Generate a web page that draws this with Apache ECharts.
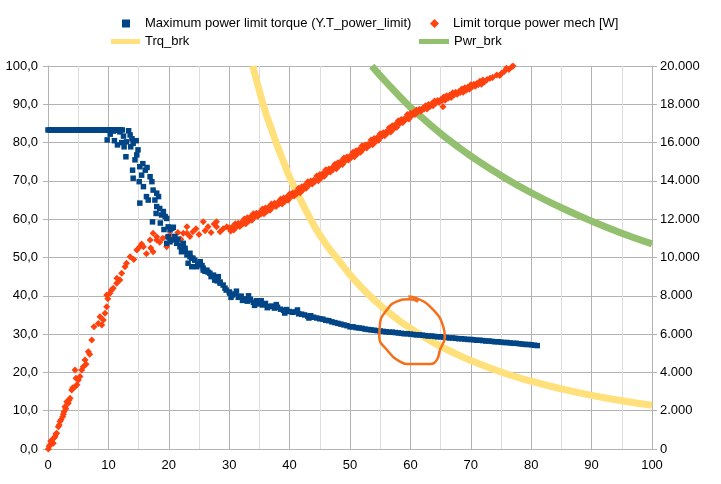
<!DOCTYPE html>
<html><head><meta charset="utf-8">
<script src="https://cdn.jsdelivr.net/npm/echarts@6/dist/echarts.min.js"></script>
<style>html,body{margin:0;padding:0;background:#fff}#c{width:721px;height:484px}</style>
</head><body><div id="c"></div><script>
const seriesNames = ['Maximum power limit torque (Y.T_power_limit)', 'Limit torque power mech [W]', 'Trq_brk', 'Pwr_brk'];

// Left axis (torque) series: blue squares
const blueFlat = [[0,83.3],[0.3,83.3],[0.6,83.3],[0.9,83.3],[1.2,83.3],[1.5,83.3],[1.8,83.3],[2.1,83.3],[2.4,83.3],[2.7,83.3],[3,83.3],[3.3,83.3],[3.6,83.3],[3.9,83.3],[4.2,83.3],[4.5,83.3],[4.8,83.3],[5.1,83.3],[5.4,83.3],[5.7,83.3],[6,83.3],[6.3,83.3],[6.6,83.3],[6.9,83.3],[7.2,83.3],[7.5,83.3],[7.8,83.3],[8.1,83.3],[8.4,83.3],[8.7,83.3],[9,83.3],[9.3,83.3],[9.6,83.3],[9.9,83.3],[10.2,83.3],[10.5,83.3],[10.8,83.3],[11.1,83.3],[11.4,83.3],[11.7,83.3],[12,83.3],[12.3,83.3]];
const blueScatter = [[9.8,80.7],[10.3,82.2],[11.0,80.5],[11.5,79.4],[11.9,82.8],[12.5,81.7],[12.6,78.9],[12.9,76.3],[13.0,80.2],[13.35,83.1],[13.6,82.0],[13.7,78.9],[14.1,79.8],[14.4,75.5],[14.7,76.8],[14.0,72.8],[14.1,70.7],[14.9,78.1],[15.2,73.7],[15.5,71.5],[15.1,69.8],[15.8,68.5],[16.1,72.8],[15.2,64.2],[16.3,65.9],[16.6,65.0],[16.9,71.1],[17.2,69.8],[17.4,67.6],[18.0,66.8],[17.7,65.0],[18.3,65.9],[18.0,63.3],[18.5,62.8],[18.8,61.1],[17.3,59.3],[19.1,62.0],[19.4,60.7],[19.65,60.2],[19.9,58.0],[20.5,57.6],[20.75,57.9],[19.9,55.4],[19.65,53.7],[20.2,54.1],[20.75,54.6],[21.3,53.7],[21.85,52.8],[22.4,53.7],[22.7,52.4],[22.1,51.5],[23.0,50.7],[23.5,51.1],[23.8,49.8],[23.2,48.5],[24.3,49.3],[24.6,47.6],[25.2,48.5],[25.7,47.2],[26.3,46.7],[26.8,45.9],[27.4,45.4],[28.2,45.0],[20.2,57.2],[22.4,52.0],[23.5,50.2],[23.8,47.6],[25.2,48.9],[25.7,46.7],[27.6,44.1],[28.5,43.3],[29.3,42.0],[30.1,40.7],[31.8,39.8],[33.4,38.9],[35.1,38.0],[37.3,37.2],[21,55.5],[21.5,54.8],[22,53.2],[22.7,51.7],[23.3,50.9],[24,49.8],[24.8,48.1],[25.5,47.9],[26,46.4],[26.5,46.2],[27,45.0],[27.8,44.5],[28,43.9],[16.4,73.5],[14.6,80.5],[12.2,80.0],[10.8,83.0],[13.9,81.0],[15.7,74.5],[17.9,61.5],[19.2,57.3],[18.6,59.0]];
const blueBand = [[28.5,43.6],[29,42.8],[29.5,41.5],[30,41.0],[30.5,40.2],[31,40.5],[31.5,39.6],[32,39.9],[32.5,39.2],[33,38.6],[33.5,39.1],[34,38.3],[34.5,38.7],[35,37.9],[35.5,37.6],[36,38.0],[36.5,37.2],[37,37.3],[37.5,36.8],[38,37.0],[38.5,36.5],[39,36.2],[39.5,36.4],[40,35.9],[40.5,35.7],[41,35.8],[41.5,35.3],[42,35.2],[42.5,35.0],[43,34.7],[43.5,34.8],[44,34.4],[44.5,34.2],[45,34.0],[45.5,33.9],[46,33.6],[46.5,33.5],[47,33.2],[47.5,33.0],[48,32.8],[48.5,32.6],[49,32.4],[49.5,32.2],[50,31.9],[50.5,31.9],[51,31.7],[51.5,31.6],[52,31.5],[52.5,31.3],[53,31.2],[53.5,31.1],[54,31.0],[54.5,30.9],[55,30.8],[55.5,30.7],[56,30.6],[56.5,30.5],[57,30.5],[57.5,30.4],[58,30.3],[58.5,30.2],[59,30.1],[59.5,30.1],[60,30.0],[60.5,29.9],[61,29.8],[61.5,29.8],[62,29.7],[62.5,29.6],[63,29.5],[63.5,29.5],[64,29.4],[64.5,29.3],[65,29.3],[65.5,29.2],[66,29.1],[66.5,29.0],[67,29.0],[67.5,28.9],[68,28.8],[68.5,28.8],[69,28.7],[69.5,28.6],[70,28.6],[70.5,28.5],[71,28.4],[71.5,28.4],[72,28.3],[72.5,28.2],[73,28.2],[73.5,28.1],[74,28.0],[74.5,28.0],[75,27.9],[75.5,27.8],[76,27.8],[76.5,27.7],[77,27.6],[77.5,27.6],[78,27.5],[78.5,27.4],[79,27.3],[79.5,27.3],[80,27.2],[80.5,27.1],[81,27.0],[30.3,39.6],[31.2,41.2],[32.2,38.8],[33.2,40.0],[34.2,37.5],[35.3,38.7],[36.3,36.9],[37.8,37.7],[39.2,35.5],[41.3,36.3],[43.2,34.2]];

// Right axis (power W) series: red diamonds
const redLow = [[0.05,0],[0.2,150],[0.33,210],[0.45,420],[0.6,380],[0.88,300],[0.95,560],[1.16,640],[1.3,780],[1.44,820],[1.71,1160],[1.85,1250],[1.99,1430],[2.15,1530],[2.43,1690],[2.55,1820],[2.65,1950],[2.8,2210],[2.95,2100],[3.1,2470],[3.36,2390],[3.5,2560],[3.64,2650],[3.92,3080],[4.1,3200],[4.47,3250],[4.64,3690],[4.47,4130],[4.8,3350],[5.02,3600],[5.3,3780],[5.58,4130],[5.84,4300],[6.13,4650],[6.3,4420],[6.67,5080],[6.9,4950],[7.24,5690],[7.62,6390],[8.33,6560],[8.61,6910],[8.9,6480],[9.16,6740],[9.44,7090],[9.72,7430],[9.72,8040],[9.9,7850],[10.26,8130],[10.5,8300],[10.8,8390],[11.37,8650],[11.9,8830]];
const redMid = [[11.4,8910],[12.2,9180],[12.75,9520],[13.0,9700],[13.6,10040],[14.2,9900],[14.7,10390],[15.2,10560],[15.5,10700],[15.8,10560],[16.3,10200],[16.9,10910],[17.0,10500],[17.4,11260],[17.4,10300],[18.0,11090],[18.0,10910],[18.5,10800],[19.0,11000],[19.65,10560],[19.7,11090],[20.2,11170],[20.5,10900],[21,11000],[21.5,11300],[22,10950],[22.4,11260],[23,11610],[23,11270],[23.5,11100],[24,11350],[24.5,11500],[25,11200],[25.7,11870],[26,11400],[26.5,11600],[27,11300],[27.5,11750],[27.9,11870],[27.9,11600],[28.5,11350],[29,11500],[29.6,11610]];
const redBand = [[30,11550],[30.25,11380],[30.5,11590],[30.75,11430],[31,11760],[31.25,11610],[31.5,11790],[31.75,11620],[32,11820],[32.25,11750],[32.5,12010],[32.75,11760],[33,12070],[33.25,11900],[33.5,12110],[33.75,11950],[34,12290],[34.25,12130],[34.5,12310],[34.75,12150],[35,12340],[35.25,12270],[35.5,12530],[35.75,12280],[36,12590],[36.25,12420],[36.5,12630],[36.75,12470],[37,12800],[37.25,12650],[37.5,12830],[37.75,12660],[38,12860],[38.25,12790],[38.5,13040],[38.75,12800],[39,13110],[39.25,12940],[39.5,13140],[39.75,12990],[40,13320],[40.25,13170],[40.5,13370],[40.75,13210],[41,13410],[41.25,13350],[41.5,13620],[41.75,13380],[42,13700],[42.25,13540],[42.5,13760],[42.75,13610],[43,13950],[43.25,13800],[43.5,14000],[43.75,13840],[44,14040],[44.25,13980],[44.5,14250],[44.75,14010],[45,14330],[45.25,14170],[45.5,14380],[45.75,14240],[46,14580],[46.25,14430],[46.5,14620],[46.75,14460],[47,14670],[47.25,14610],[47.5,14870],[47.75,14630],[48,14950],[48.25,14800],[48.5,15010],[48.75,14860],[49,15200],[49.25,15050],[49.5,15250],[49.75,15090],[50,15290],[50.25,15230],[50.5,15500],[50.75,15260],[51,15580],[51.25,15420],[51.5,15640],[51.75,15490],[52,15830],[52.25,15680],[52.5,15880],[52.75,15720],[53,15920],[53.25,15860],[53.5,16130],[53.75,15890],[54,16210],[54.25,16050],[54.5,16270],[54.75,16120],[55,16460],[55.25,16320],[55.5,16510],[55.75,16360],[56,16570],[56.25,16520],[56.5,16780],[56.75,16550],[57,16880],[57.25,16720],[57.5,16940],[57.75,16800],[58,17140],[58.25,17000],[58.5,17200],[58.75,17050],[59,17250],[59.25,17200],[59.5,17470],[59.75,17230],[60,17530],[60.25,17420],[60.5,17570],[60.75,17470],[61,17700],[61.25,17610],[61.5,17740],[61.75,17640],[62,17780],[62.25,17750],[62.5,17920],[62.75,17760],[63,17990],[63.25,17880],[63.5,18030],[63.75,17930],[64,18170],[64.25,18070],[64.5,18200],[64.75,18100],[65,18240],[65.25,18200],[65.5,18380],[65.75,18210],[66,18440],[66.25,18320],[66.5,18470],[66.75,18360],[67,18600],[67.25,18500],[67.5,18630],[67.75,18520],[68,18660],[68.25,18620],[68.5,18800],[68.75,18630],[69,18860],[69.25,18740],[69.5,18890],[69.75,18780],[70,19020],[70.25,18920],[70.5,19050],[70.75,18940],[71,19080],[71.25,19040],[71.5,19210],[71.75,19050],[72,19270],[72.25,19160],[72.7,19300],[73.2,19360],[73.6,19400],[74.3,19530],[74.8,19500],[75.1,19620],[75.5,19700],[75.9,19880],[76.3,19820],[76.8,19960],[77,20000],[65.4,17870]];

// Trq_brk (left axis)
const trqX = [33.9,35,36,37,38,39,40,42,44,46,48,50,52,55,58,60,62,65,68,70,75,80,85,90,95,100];
const trqY = [100,93.5,88,83.5,79,75,71,64.5,58.5,53.5,49.5,45.5,42,37.5,33.7,31.5,29.5,26.8,24.5,23.1,20.1,17.7,15.7,14,12.6,11.4];
// Pwr_brk (right axis)
const pwrX = [53.6,55,57.5,60,62.5,65,67.5,70,75,80,85,90,95,100];
const pwrY = [20000,19500,18650,17850,17150,16480,15870,15300,14280,13380,12600,11900,11270,10710];

// Hand-drawn orange circle annotation (left-axis data coordinates)
const circleX = [59.65,61.0,63.8,65.45,65.7,64.9,64.35,63.25,59.9,58.3,56.1,54.85,54.97,56.1,57.7,59.9,61.3];
const circleY = [39.8,39.4,36.3,31.9,29.3,25.9,23.2,22.2,22.2,22.8,25.9,29.3,32.8,36.3,38.5,39.1,38.5];

const zip = (a, b) => a.map((v, i) => [v, b[i]]);
const font = {fontFamily: 'Liberation Sans', fontSize: 13, color: '#000'};
const grey = '#b3b3b3';
const leftFmt = v => v.toFixed(1).replace('.', ',');
const rightFmt = v => v === 0 ? '0' : Math.floor(v / 1000) + '.' + String(v % 1000).padStart(3, '0');

const chart = echarts.init(document.getElementById('c'), null, {renderer: 'canvas'});
chart.setOption({
  animation: false,
  backgroundColor: '#fff',
  grid: {left: 48, right: 69, top: 66, bottom: 35, containLabel: false, outerBoundsMode: 'none'},
  legend: [
    {data: [seriesNames[0]], left: 117, top: 12, icon: 'rect', itemWidth: 8, itemHeight: 8, selectedMode: false, textStyle: Object.assign({padding: [0, 0, 0, 10]}, font)},
    {data: [seriesNames[1]], left: 425, top: 12, icon: 'diamond', itemWidth: 9, itemHeight: 9, selectedMode: false, textStyle: Object.assign({padding: [0, 0, 0, 9]}, font)},
    {data: [seriesNames[2]], left: 106, top: 30, icon: 'rect', itemWidth: 29, itemHeight: 5, selectedMode: false, textStyle: font},
    {data: [seriesNames[3]], left: 414, top: 30, icon: 'rect', itemWidth: 30, itemHeight: 5, selectedMode: false, textStyle: font}
  ],
  xAxis: {
    type: 'value', min: 0, max: 100, interval: 10,
    axisLine: {show: true, onZero: false, lineStyle: {color: grey}},
    axisTick: {show: false},
    axisLabel: Object.assign({margin: 10}, font),
    splitLine: {show: true, lineStyle: {color: grey}},
    minorTick: {show: false, splitNumber: 2},
    minorSplitLine: {show: true, lineStyle: {color: '#dddddd'}}
  },
  yAxis: [
    {
      type: 'value', min: 0, max: 100, interval: 10, position: 'left',
      axisLine: {show: true, lineStyle: {color: grey}},
      axisTick: {show: true, length: 5, lineStyle: {color: grey}},
      axisLabel: Object.assign({margin: 10, formatter: leftFmt}, font),
      splitLine: {show: true, lineStyle: {color: grey}}
    },
    {
      type: 'value', min: 0, max: 20000, interval: 2000, position: 'right',
      axisLine: {show: true, lineStyle: {color: grey}},
      axisTick: {show: true, length: 5, lineStyle: {color: grey}},
      axisLabel: Object.assign({margin: 8, formatter: rightFmt}, font),
      splitLine: {show: false}
    }
  ],
  series: [
    {name: seriesNames[2], type: 'line', yAxisIndex: 0, data: zip(trqX, trqY), smooth: true, symbol: 'none', lineStyle: {width: 7, color: '#ffe07a'}, itemStyle: {color: '#ffe07a'}, z: 1, silent: true},
    {name: seriesNames[3], type: 'line', yAxisIndex: 1, data: zip(pwrX, pwrY), smooth: true, symbol: 'none', lineStyle: {width: 7, color: '#93c06e'}, itemStyle: {color: '#93c06e'}, z: 1, silent: true},
    {name: seriesNames[1], type: 'scatter', yAxisIndex: 1, data: redLow.concat(redMid, redBand), symbol: 'diamond', symbolSize: [7, 7], itemStyle: {color: '#ff420e', opacity: 1}, z: 3, silent: true},
    {name: seriesNames[0], type: 'scatter', yAxisIndex: 0, data: blueFlat.concat(blueScatter, blueBand), symbol: 'rect', symbolSize: 5.5, itemStyle: {color: '#004586', opacity: 1}, z: 4, silent: true},
    {name: 'circle', type: 'line', yAxisIndex: 0, data: zip(circleX, circleY), smooth: 0.5, symbol: 'none', lineStyle: {width: 2.5, color: '#f5701c'}, z: 10, silent: true}
  ]
});
</script></body></html>
